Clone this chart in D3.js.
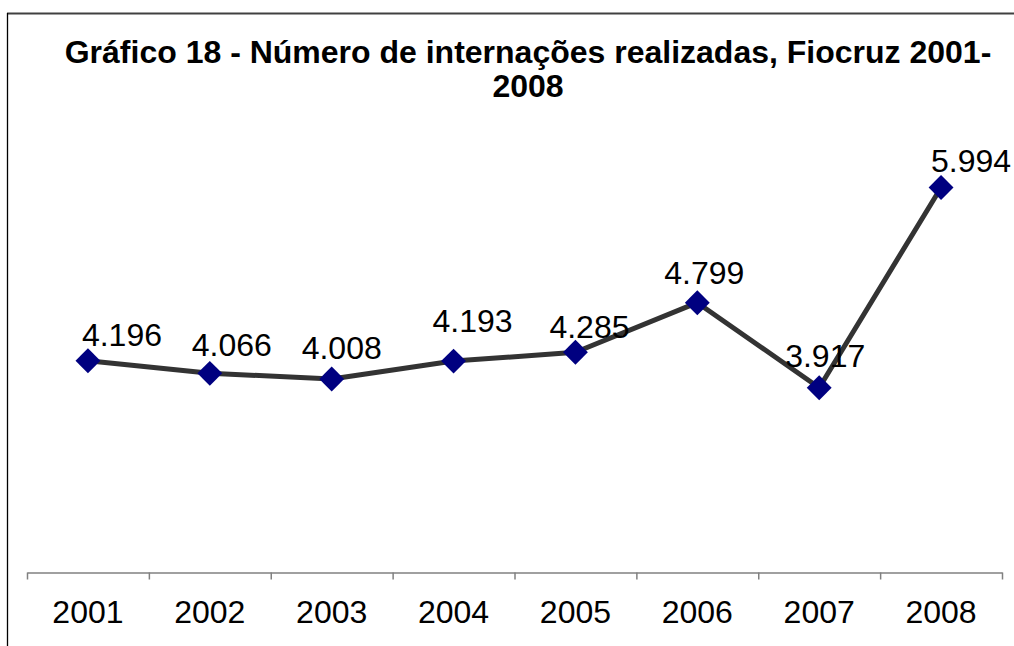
<!DOCTYPE html>
<html>
<head>
<meta charset="utf-8">
<script src="https://cdn.jsdelivr.net/npm/d3@7"></script>
<style>
  body { margin: 0; background: #fff; }
  svg { display: block; font-family: "Liberation Sans", Arial, sans-serif; }
</style>
</head>
<body>
<div id="wrapper"></div>
<script>
// data
const years = ["2001", "2002", "2003", "2004", "2005", "2006", "2007", "2008"]
const internacoes = [4196, 4066, 4008, 4193, 4285, 4799, 3917, 5994]
const titleLines = ["Gráfico 18 - Número de internações realizadas, Fiocruz 2001-", "2008"]

// label nudges (the labels were hand placed in the original)
const labelDx = [34, 22, 10, 19, 14, 7, 6, 30]
const labelDy = [15, 17, 20, 29, 14, 19, 21, 15]

const dimensions = { width: 1014, height: 646 }

const svg = d3.select("#wrapper")
  .append("svg")
  .attr("width", dimensions.width)
  .attr("height", dimensions.height)

// frame (only top and left edges fall inside the picture)
svg.append("line")
  .attr("x1", 7).attr("x2", dimensions.width)
  .attr("y1", 13.5).attr("y2", 13.5)
  .attr("stroke", "#404040").attr("stroke-width", 2)
svg.append("line")
  .attr("x1", 7.5).attr("x2", 7.5)
  .attr("y1", 13).attr("y2", dimensions.height)
  .attr("stroke", "#000").attr("stroke-width", 1.3)

// title
const title = svg.append("text")
  .attr("text-anchor", "middle")
  .style("font-weight", "bold")
  .style("font-size", "32px")
titleLines.forEach((t, i) => {
  title.append("tspan")
    .attr("x", 528)
    .attr("y", 63 + i * 34)
    .text(t)
})

// scales
const xScale = d3.scaleBand()
  .domain(years)
  .range([27, 1002])

const yScale = d3.scaleLinear()
  .domain([2000, 7000])
  .range([572.5, 90.5])

// category axis: ticks between the categories
const boundary = d3.scaleLinear()
  .domain([0, years.length])
  .range(xScale.range())

const axisTicks = svg.append("g")
  .attr("transform", `translate(0, ${yScale(2000)})`)
  .call(d3.axisBottom(boundary)
    .tickValues(d3.range(years.length + 1))
    .tickSize(7)
    .tickSizeOuter(0)
    .tickFormat(""))
axisTicks.selectAll("path, line")
  .attr("stroke", "#808080")
  .attr("stroke-width", 1.5)

const axisLabels = svg.append("g")
  .attr("transform", `translate(0, ${yScale(2000)})`)
  .call(d3.axisBottom(xScale).tickSize(0).tickPadding(28))
axisLabels.select(".domain").remove()
axisLabels.selectAll("text")
  .attr("fill", "#000")
  .style("font-family", "'Liberation Sans', Arial, sans-serif")
  .style("font-size", "32px")

// line
const xAccessor = (d, i) => xScale(years[i]) + xScale.bandwidth() / 2
const lineGenerator = d3.line()
  .x((d, i) => xAccessor(d, i))
  .y(d => yScale(d))

svg.append("path")
  .attr("d", lineGenerator(internacoes))
  .attr("fill", "none")
  .attr("stroke", "#333333")
  .attr("stroke-width", 5)
  .attr("stroke-linejoin", "round")

// markers
svg.selectAll(".marker")
  .data(internacoes)
  .join("path")
  .attr("class", "marker")
  .attr("d", d3.symbol(d3.symbolSquare, 310))
  .attr("transform", (d, i) => `translate(${xAccessor(d, i)}, ${yScale(d)}) rotate(45)`)
  .attr("fill", "#000080")

// value labels
const fmt = d3.formatLocale({ decimal: ",", thousands: ".", grouping: [3], currency: ["", ""] }).format(",")
svg.selectAll(".value")
  .data(internacoes)
  .join("text")
  .attr("class", "value")
  .attr("x", (d, i) => xAccessor(d, i) + labelDx[i])
  .attr("y", (d, i) => yScale(d) - labelDy[i])
  .attr("text-anchor", "middle")
  .style("font-size", "32px")
  .text(d => fmt(d))
</script>
</body>
</html>
